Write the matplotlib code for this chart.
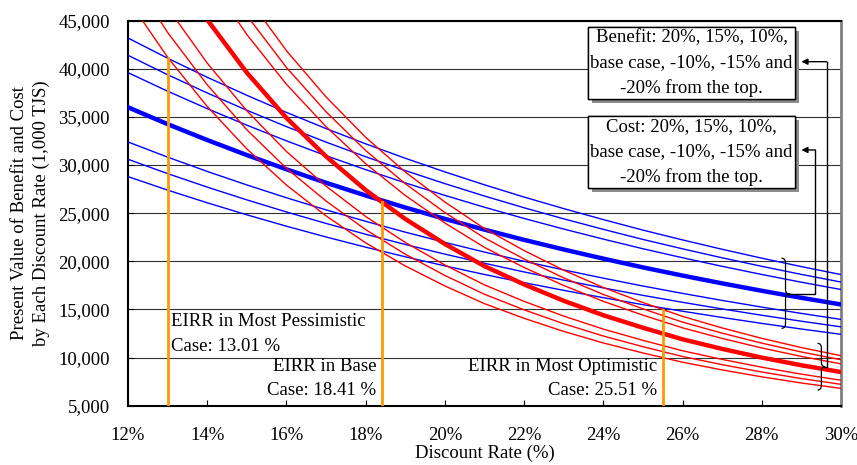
# Present value of benefit and cost vs. discount rate, with EIRR markers
import numpy as np
import matplotlib.pyplot as plt
import matplotlib.patheffects as pe
from matplotlib.path import Path
from matplotlib.patches import PathPatch
from matplotlib.ticker import FuncFormatter

plt.rcParams['font.family'] = ['Liberation Serif', 'DejaVu Serif']

# Discount rate (%) and base-case present values (1,000 TJS)
discount_rate = [12, 13, 14, 15, 16, 17, 18, 19, 20, 21,
                 22, 23, 24, 25, 26, 27, 28, 29, 30]
benefit_base = [59000, 51500, 45100, 39600, 34900, 30900, 27400, 24400, 21800, 19500,
                17600, 15900, 14400, 13100, 11900, 10900, 10000, 9200, 8500]
cost_base = [36000, 34250, 32600, 31040, 29560, 28160, 26840, 25590, 24410, 23290,
             22230, 21230, 20280, 19370, 18520, 17710, 16940, 16210, 15520]

# Sensitivity cases: +20%, +15%, +10%, base, -10%, -15%, -20%
case_factor = [1.20, 1.15, 1.10, 1.00, 0.90, 0.85, 0.80]

# EIRR of each case and the benefit case it sits on
eirr_rate = [13.01, 18.41, 25.51]
eirr_benefit_factor = [0.80, 1.00, 1.20]
eirr_label = ["EIRR in Most Pessimistic\nCase: 13.01 %",
              "EIRR in Base\nCase: 18.41 %",
              "EIRR in Most Optimistic\nCase: 25.51 %"]

benefit_note = "Benefit: 20%, 15%, 10%,\nbase case, -10%, -15% and\n-20% from the top."
cost_note = "Cost: 20%, 15%, 10%,\nbase case, -10%, -15% and\n-20% from the top."


def draw_brace(ax, x_left, x_tip, y_low, y_high, y_mid, q=500):
    # curly brace opening to the left, tip pointing right
    xm = (x_left + x_tip) / 2
    verts = [(x_left, y_high), (xm, y_high), (xm, y_high - q),
             (xm, y_mid + q),
             (xm, y_mid), (x_tip, y_mid),
             (xm, y_mid), (xm, y_mid - q),
             (xm, y_low + q),
             (xm, y_low), (x_left, y_low)]
    codes = [Path.MOVETO, Path.CURVE3, Path.CURVE3,
             Path.LINETO,
             Path.CURVE3, Path.CURVE3,
             Path.CURVE3, Path.CURVE3,
             Path.LINETO,
             Path.CURVE3, Path.CURVE3]
    ax.add_patch(PathPatch(Path(verts, codes), fc='none', ec='black', lw=0.9, zorder=6))


rates = np.array(discount_rate)
benefit = np.array(benefit_base, dtype=float)
cost = np.array(cost_base, dtype=float)

fig = plt.figure(figsize=(8.57, 4.65), dpi=100)
ax = fig.add_axes([0.1494, 0.1275, 0.8319, 0.828])

for f in case_factor:
    lw = 3.2 if f == 1.0 else 1.0
    ax.plot(rates, cost * f, color='#0000ff', lw=lw, zorder=3)
for f in case_factor:
    lw = 3.2 if f == 1.0 else 1.0
    ax.plot(rates, benefit * f, color='#ff0000', lw=lw, zorder=4)

# EIRR markers
for r, f in zip(eirr_rate, eirr_benefit_factor):
    top = np.interp(r, rates, benefit * f)
    ax.plot([r, r], [5000, top], color='#ff9900', lw=2.0, zorder=5)

fs = 13.5
ax.annotate(eirr_label[0], xy=(eirr_rate[0], 14600), xytext=(2, 0),
            textcoords='offset points', ha='left', va='top',
            multialignment='left', fontsize=fs, linespacing=1.6)
ax.annotate(eirr_label[1], xy=(eirr_rate[1], 10000), xytext=(-4, 0),
            textcoords='offset points', ha='right', va='top',
            multialignment='right', fontsize=fs, linespacing=1.6)
ax.annotate(eirr_label[2], xy=(eirr_rate[2], 10000), xytext=(-4, 0),
            textcoords='offset points', ha='right', va='top',
            multialignment='right', fontsize=fs, linespacing=1.6)

# legend notes with drop shadow
for note, y in [(benefit_note, 40600), (cost_note, 31360)]:
    t = ax.text(26.23, y, note, ha='center', va='center', multialignment='center',
                fontsize=fs, linespacing=1.6, zorder=7,
                bbox=dict(boxstyle='square,pad=0.12', fc='white', ec='black', lw=1.0))
    t.get_bbox_patch().set_path_effects(
        [pe.withSimplePatchShadow(offset=(3, -3), shadow_rgbFace='0.55', alpha=1.0),
         pe.Normal()])

# braces and arrows to the notes
draw_brace(ax, 28.50, 28.70, 13040, 20320, 16600)
draw_brace(ax, 29.41, 29.60, 6630, 11480, 9050)
ax.plot([28.70, 29.35, 29.35], [16600, 16600, 31570], color='black', lw=1.0, zorder=6)
ax.plot([29.60, 29.64, 29.64], [9050, 9050, 40740], color='black', lw=1.0, zorder=6)
ax.annotate('', xy=(29.0, 31570), xytext=(29.35, 31570),
            arrowprops=dict(arrowstyle='-|>', color='black', lw=1.0,
                            mutation_scale=9, shrinkA=0, shrinkB=0), zorder=6)
ax.annotate('', xy=(29.0, 40740), xytext=(29.64, 40740),
            arrowprops=dict(arrowstyle='-|>', color='black', lw=1.0,
                            mutation_scale=9, shrinkA=0, shrinkB=0), zorder=6)

ax.set_xlim(12, 30)
ax.set_ylim(5000, 45000)
ax.set_xticks(range(12, 31, 2))
ax.set_yticks(range(5000, 45001, 5000))
ax.xaxis.set_major_formatter(FuncFormatter(lambda v, p: f"{v:.0f}%"))
ax.yaxis.set_major_formatter(FuncFormatter(lambda v, p: f"{v:,.0f}"))
ax.tick_params(axis='x', direction='in', length=4, pad=15, labelsize=13.5)
ax.tick_params(axis='y', direction='in', length=4, pad=13, labelsize=13.5)
ax.grid(axis='y', color='#333333', lw=0.8)
ax.set_axisbelow(True)

for side in ['left', 'bottom', 'top']:
    ax.spines[side].set_linewidth(1.5)
ax.spines['right'].set_color('gray')
ax.spines['right'].set_linewidth(2.0)

fig.text(0.5656, 0.006, "Discount Rate (%)", ha='center', va='bottom', fontsize=fs)
fig.text(0.036, 0.542, "Present Value of Benefit and Cost\nby Each Discount Rate (1,000 TJS)",
         rotation=90, ha='center', va='center', fontsize=fs, linespacing=1.35)

fig.savefig('out.png', dpi=100)
